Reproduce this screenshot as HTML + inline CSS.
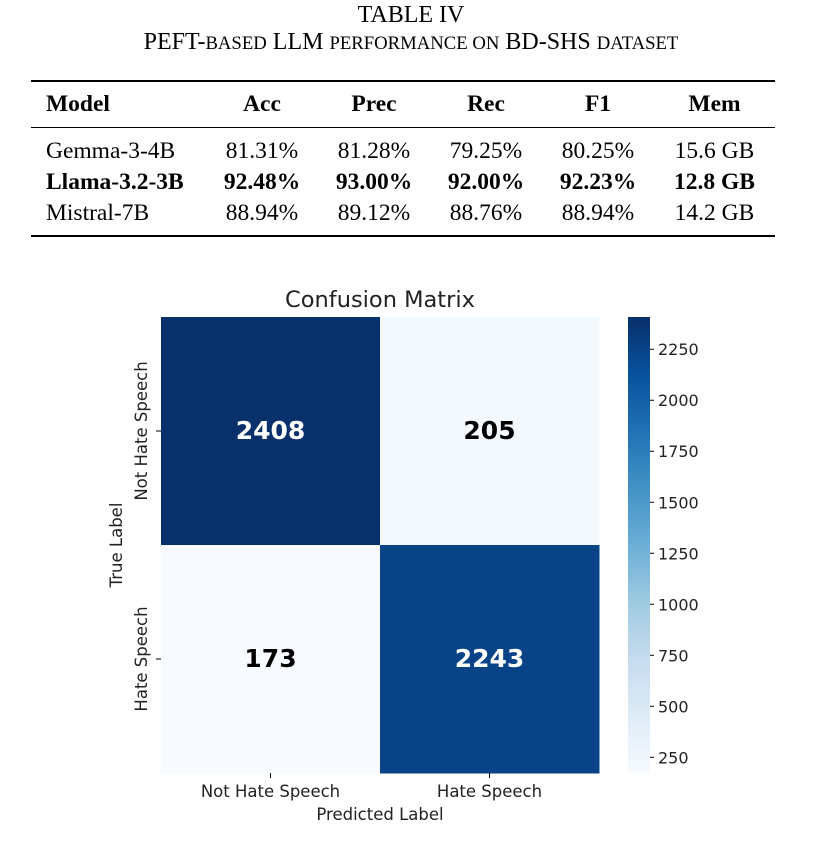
<!DOCTYPE html>
<html><head><meta charset="utf-8"><style>
body{margin:0;width:822px;height:856px;background:#fff;position:relative;overflow:hidden}
.t{position:absolute;font-family:"Liberation Serif",serif;color:#000}
table{position:absolute;left:31px;top:80px;width:744px;border-collapse:collapse;font-family:"Liberation Serif",serif;font-size:23.5px;table-layout:fixed}
td,th{padding:0;text-align:center;height:31px;white-space:nowrap}
th{height:45px}
.sc{text-transform:uppercase;font-size:0.78em}
</style></head><body>
<div class="t" style="left:0;width:822px;top:2px;text-align:center;font-size:24px">TABLE IV</div>
<div class="t" style="left:0;width:822px;top:29px;text-align:center;font-size:24px">PEFT-<span class="sc">based</span> LLM <span class="sc">performance on</span> BD-SHS <span class="sc">dataset</span></div>
<table>
<colgroup><col style="width:175px"><col style="width:112px"><col style="width:112px"><col style="width:112px"><col style="width:112px"><col style="width:121px"></colgroup>
<tr style="border-top:2px solid #000;border-bottom:1.5px solid #000"><th style="text-align:left;padding-left:15px">Model</th><th>Acc</th><th>Prec</th><th>Rec</th><th>F1</th><th>Mem</th></tr>
<tr><td style="text-align:left;padding-left:15px;padding-top:8px">Gemma-3-4B</td><td style="padding-top:8px">81.31%</td><td style="padding-top:8px">81.28%</td><td style="padding-top:8px">79.25%</td><td style="padding-top:8px">80.25%</td><td style="padding-top:8px">15.6 GB</td></tr>
<tr style="font-weight:bold"><td style="text-align:left;padding-left:15px">Llama-3.2-3B</td><td>92.48%</td><td>93.00%</td><td>92.00%</td><td>92.23%</td><td>12.8 GB</td></tr>
<tr style="border-bottom:2px solid #000"><td style="text-align:left;padding-left:15px;padding-bottom:6px">Mistral-7B</td><td style="padding-bottom:6px">88.94%</td><td style="padding-bottom:6px">89.12%</td><td style="padding-bottom:6px">88.76%</td><td style="padding-bottom:6px">88.94%</td><td style="padding-bottom:6px">14.2 GB</td></tr>
</table>
<svg id="c" width="822" height="856" style="position:absolute;left:0;top:0" font-family="DejaVu Sans, sans-serif"></svg>
<script>
const labels=["Not Hate Speech","Hate Speech"];
const row0=[2408,205];
const row1=[173,2243];
const cbTicks=[250,500,750,1000,1250,1500,1750,2000,2250];
const vals=[row0,row1];
const NS="http://www.w3.org/2000/svg";
const svg=document.getElementById('c');
function el(t,a,txt){const e=document.createElementNS(NS,t);for(const k in a)e.setAttribute(k,a[k]);if(txt!==undefined)e.textContent=txt;svg.appendChild(e);return e;}
const stops=["#f7fbff","#deebf7","#c6dbef","#9ecae1","#6baed6","#4292c6","#2171b5","#08519c","#08306b"];
function hex(h){return[1,3,5].map(i=>parseInt(h.substr(i,2),16));}
function cmap(t){t=Math.max(0,Math.min(1,t));const p=t*8,i=Math.min(7,Math.floor(p)),f=p-i;const a=hex(stops[i]),b=hex(stops[i+1]);return"rgb("+a.map((v,k)=>Math.round(v+(b[k]-v)*f)).join(",")+")";}
const all=row0.concat(row1),vmin=Math.min(...all),vmax=Math.max(...all);
const X0=161,Y0=317,CW=219,CH=228;
const x=j=>X0+j*CW, y=i=>Y0+i*CH;
vals.forEach((r,i)=>r.forEach((v,j)=>{
 const t=(v-vmin)/(vmax-vmin);
 const c=el('rect',{x:x(j),y:y(i),width:CW+0.5,height:CH+0.5,fill:cmap(t)});
 
 
 const tx=el('text',{x:x(j)+CW/2,y:y(i)+CH/2+8,'text-anchor':'middle','font-size':25,'font-weight':'bold',fill:t>0.5?'#fff':'#000'},v);
 
 
}));
labels.forEach((l,k)=>{
 el('line',{x1:x(k)+CW/2,x2:x(k)+CW/2,y1:Y0+2*CH,y2:Y0+2*CH+5,stroke:'#000'});
 const a=el('text',{x:x(k)+CW/2,y:797,'text-anchor':'middle','font-size':16.5,fill:'#222'},l);
 
 
 el('line',{x1:X0-5,x2:X0,y1:y(k)+CH/2,y2:y(k)+CH/2,stroke:'#000'});
 const b=el('text',{transform:`translate(147,${y(k)+CH/2}) rotate(-90)`,'text-anchor':'middle','font-size':16.5,fill:'#222'},l);
 
 
});
let e=el('text',{x:380,y:307,'text-anchor':'middle','font-size':22.5,fill:'#222'},'Confusion Matrix');

e=el('text',{x:380,y:820,'text-anchor':'middle','font-size':16.5,fill:'#222'},'Predicted Label');

e=el('text',{transform:'translate(122,545) rotate(-90)','text-anchor':'middle','font-size':16.5,fill:'#222'},'True Label');

const CBX=628,CBW=22,CBT=Y0,CBB=Y0+2*CH;
const cy=v=>CBB-(v-vmin)/(vmax-vmin)*(CBB-CBT);
const defs=el('defs',{});
const g=document.createElementNS(NS,'linearGradient');g.setAttribute('id','cg');g.setAttribute('x1',0);g.setAttribute('y1',1);g.setAttribute('x2',0);g.setAttribute('y2',0);defs.appendChild(g);
stops.forEach((s,i)=>{const st=document.createElementNS(NS,'stop');st.setAttribute('offset',i/8);st.setAttribute('stop-color',s);g.appendChild(st);});
e=el('rect',{x:CBX,y:CBT,width:CBW,height:CBB-CBT,fill:'url(#cg)'});

cbTicks.forEach(v=>{
 el('line',{x1:CBX+CBW,x2:CBX+CBW+4,y1:cy(v),y2:cy(v),stroke:'#000'});
 const t=el('text',{x:CBX+CBW+8,y:cy(v)+6,'font-size':16,fill:'#222'},v);
 
 
});
</script>
</body></html>
